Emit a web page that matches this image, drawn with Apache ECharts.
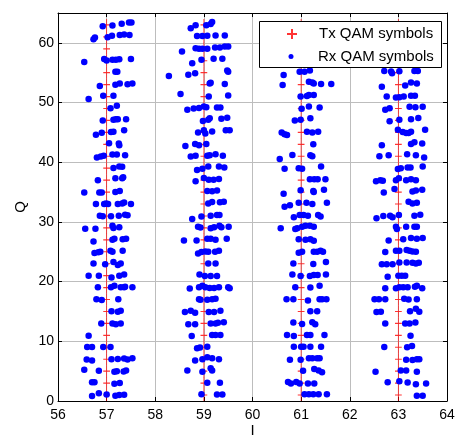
<!DOCTYPE html>
<html>
<head>
<meta charset="utf-8">
<script src="https://cdn.jsdelivr.net/npm/echarts@6/dist/echarts.min.js"></script>
<style>
html,body{margin:0;padding:0;background:#fff;}
#chart{width:456px;height:435px;}
</style>
</head>
<body>
<div id="chart"></div>
<script>
// Transmitted constellation columns (I) and rows (Q)
const txI = [57, 59, 61, 63];
const txQ = [1, 3, 5, 7, 9, 11, 13, 15, 17, 19, 21, 23, 25, 27, 29, 31, 33, 35, 37, 39, 41, 43, 45, 47, 49, 51, 53, 55, 57, 59, 61, 63];

// Received symbols: [I, Q]
const rx57 = [
  [56.92,62.8],[57.12,62.9],[57.31,63.2],[57.46,63.4],[57.51,63.4],
  [56.73,60.6],[56.76,60.9],[57.02,60.95],[57.11,61.2],[57.27,61.3],[57.36,61.4],[57.47,61.3],
  [56.54,56.8],[56.95,57.3],[57.0,57.05],[57.12,57.15],[57.19,57.15],[57.26,57.25],[57.5,57.3],
  [57.18,55.15],[57.22,55.15],
  [56.86,52.75],[57.18,53.0],[57.27,53.2],[57.43,53.05],[57.53,53.2],
  [56.63,50.6],[56.93,51.15],[57.14,51.15],
  [57.08,49.05],[57.21,49.45],
  [56.92,47.0],[57.14,47.1],[57.19,47.2],[57.23,47.2],[57.4,47.2],
  [56.78,44.6],[56.9,44.95],[57.09,45.05],[57.14,45.1],[57.36,45.35],
  [57.05,43.2],[57.25,43.15],[57.26,42.85],
  [56.8,40.8],[56.88,40.95],[56.94,41.1],[57.12,41.3],[57.21,41.3],[57.38,41.15],
  [57.14,39.05],[57.26,39.3],[57.32,39.25],
  [56.82,37.0],[57.18,37.3],[57.32,37.3],[57.34,37.5],
  [56.54,34.95],[56.85,34.95],[56.9,34.95],[57.18,35.0],[57.27,35.2],
  [56.78,33.0],[56.95,33.0],[56.99,33.1],[57.03,33.0],[57.23,33.0],[57.32,33.1],[57.36,33.25],[57.5,33.0],
  [56.86,31.05],[56.92,30.95],[57.09,30.95],[57.25,31.05],[57.38,31.2],[57.43,31.1],
  [56.56,28.85],[56.77,28.85],[57.12,29.35],[57.14,29.0],[57.26,29.1],
  [56.73,26.7],[57.12,27.0],[57.16,27.2],[57.33,27.1],[57.4,27.2],
  [56.75,24.8],[56.83,24.9],[56.87,25.0],[57.08,25.15],[57.12,25.0],[57.33,25.15],
  [56.73,23.05],[56.97,22.9],[57.14,23.3],[57.23,22.8],[57.29,23.05],
  [56.63,21.0],[56.84,21.0],[57.1,20.7],[57.26,21.0],[57.36,21.2],
  [56.82,19.05],[57.09,19.05],[57.16,19.3],[57.29,19.05],[57.36,19.05],[57.38,19.15],[57.53,19.05],
  [56.79,17.05],[56.9,16.9],[57.24,17.05],
  [57.1,15.05],[57.23,14.95],[57.29,15.1],
  [56.89,13.0],[57.12,13.0],[57.19,12.85],[57.29,13.0],
  [56.63,10.95],
  [56.6,9.05],[56.7,9.05],[56.93,9.05],[57.08,9.05],
  [56.59,6.95],[56.7,6.8],[57.1,7.0],[57.23,7.05],[57.36,7.1],[57.43,6.95],[57.53,7.15],
  [56.54,5.25],[56.84,5.05],[57.16,4.9],[57.21,5.0],[57.35,4.95],[57.4,5.1],
  [56.7,3.15],[56.75,3.15],[57.16,2.9],[57.27,3.0],
  [56.7,0.85],[56.84,1.3],[57.0,1.1],[57.18,0.9],[57.26,1.0],[57.36,1.05]
];
const rx59 = [
  [58.73,62.45],[58.83,62.95],[59.05,62.95],[59.14,63.15],[59.17,63.5],
  [58.86,61.15],[58.97,61.15],[59.07,61.2],[59.24,61.25],[59.43,61.25],
  [58.55,58.55],[58.83,59.1],[58.9,59.0],[58.97,59.0],[59.07,59.0],[59.23,59.2],[59.33,59.2],[59.43,59.4],[59.5,59.4],
  [58.76,56.6],[58.95,57.15],[59.2,57.35],[59.38,57.35],
  [58.28,54.45],[58.68,54.65],[58.82,54.9],[59.48,55.35],[59.5,55.15],
  [59.12,53.2],[59.14,53.3],[59.43,53.1],
  [58.52,51.45],[59.1,51.0],[59.5,51.2],
  [58.66,48.8],[58.79,49.0],[58.9,49.1],[59.0,49.35],[59.05,49.2],[59.27,49.15],[59.34,49.15],
  [58.98,46.9],[59.09,47.1],[59.12,47.35],[59.36,47.3],[59.48,47.45],
  [58.88,45.0],[59.0,45.35],[59.03,44.8],[59.17,45.15],[59.45,45.35],[59.53,45.35],
  [58.62,42.7],[58.82,43.05],[58.9,42.85],[59.05,43.05],
  [58.73,40.95],[58.83,41.1],[59.07,41.1],[59.12,41.15],[59.24,41.35],[59.39,41.1],
  [58.86,38.7],[58.97,38.9],[59.09,39.3],[59.31,39.3],[59.42,39.1],
  [58.83,36.8],[59.0,37.35],[59.1,37.05],[59.2,37.05],[59.31,37.2],
  [59.07,35.2],[59.17,35.15],[59.27,35.25],
  [59.09,33.1],[59.17,33.35],[59.33,33.3],[59.41,33.4],
  [58.76,30.5],[58.95,30.9],[59.14,31.05],[59.27,31.15],[59.32,31.15],
  [58.88,29.2],[58.93,29.05],[59.14,28.95],[59.21,29.1],[59.32,29.35],[59.36,29.1],[59.51,29.2],
  [58.59,26.9],[58.85,26.9],[59.07,27.2],[59.14,27.2],[59.24,27.0],[59.47,27.2],
  [58.88,24.7],[58.95,24.95],[59.03,25.05],[59.09,25.0],[59.23,25.0],[59.31,25.15],
  [59.09,23.05],[59.24,23.05],
  [58.91,21.2],[59.02,20.95],[59.14,20.95],[59.27,20.95],
  [58.71,18.85],[58.9,19.05],[58.97,19.3],[59.03,19.05],[59.12,18.95],[59.21,18.95],[59.31,19.05],[59.5,19.05],[59.53,18.9],
  [58.9,17.05],[58.93,16.95],[59.07,16.95],[59.17,17.05],[59.24,17.15],
  [58.61,14.9],[58.73,15.1],[58.82,14.8],[59.1,14.9],[59.21,14.9],[59.34,15.1],
  [58.68,12.85],[58.82,12.85],[59.14,13.0],[59.24,13.0],[59.29,13.1],[59.41,13.2],
  [58.75,10.9],[59.17,11.05],[59.24,11.05],[59.34,11.05],
  [58.86,8.85],[58.92,8.95],[59.07,9.1],
  [58.82,6.8],[58.97,7.0],[59.07,7.35],[59.17,7.15],[59.31,7.0],
  [58.66,5.1],[58.97,4.9],[59.14,5.5],[59.17,5.1],
  [59.07,3.05],[59.33,3.05],
  [58.95,1.15],[59.27,1.1],[59.38,1.1]
];
const rx61 = [
  [60.64,54.6],[60.97,55.15],[61.07,55.15],[61.18,55.35],
  [60.62,52.95],[61.16,53.5],[61.23,53.35],[61.26,53.2],[61.41,53.1],[61.62,53.1],
  [60.99,51.0],[61.12,51.1],[61.16,51.25],[61.26,51.25],
  [61.01,48.95],[61.16,49.35],[61.38,49.15],
  [60.87,47.0],[60.99,47.1],[61.19,47.35],
  [60.6,45.0],[60.66,44.7],[60.71,44.55],[61.12,45.1],[61.23,45.0],[61.35,45.1],
  [61.25,43.0],
  [60.56,40.55],[60.82,41.2],[61.19,41.15],[61.23,41.0],
  [60.66,38.9],[60.95,39.0],[61.02,38.9],[61.41,39.3],
  [61.18,37.15],[61.27,37.15],[61.34,37.15],[61.5,37.15],
  [60.64,34.7],[60.99,35.3],[61.25,35.2],[61.26,35.0],[61.47,35.4],
  [60.66,32.55],[60.77,32.8],[60.95,33.2],[61.11,33.2],[61.23,33.0],[61.53,33.2],
  [60.85,30.8],[60.97,31.15],[61.05,31.15],[61.14,31.05],[61.35,31.15],[61.4,30.9],
  [60.58,28.95],[60.88,28.8],[60.92,28.95],[61.02,29.2],[61.09,29.35],[61.18,29.35],[61.26,29.2],
  [60.95,27.1],[61.09,27.0],[61.19,27.1],[61.26,26.85],
  [60.95,24.85],[61.02,25.0],[61.26,25.0],[61.33,25.0],[61.4,25.15],[61.45,25.0],
  [60.84,23.05],[61.25,22.95],[61.51,23.3],
  [60.82,21.2],[60.99,20.95],[61.18,20.95],[61.26,21.1],[61.34,21.1],[61.51,21.2],
  [60.88,19.05],[61.19,19.0],[61.38,19.3],
  [60.7,17.05],[60.84,17.05],[61.14,16.85],[61.38,17.05],[61.43,17.05],[61.52,17.05],
  [61.19,15.05],[61.33,15.05],
  [60.84,13.15],[61.02,12.9],[61.23,13.2],[61.29,12.85],
  [60.71,11.05],[60.85,10.9],[61.12,11.05],[61.19,11.05],[61.48,11.05],
  [60.85,9.1],[61.0,9.1],[61.05,9.1],[61.19,9.1],[61.41,9.1],
  [60.77,6.9],[60.99,6.9],[61.16,7.15],[61.23,7.15],[61.33,7.15],[61.38,7.15],
  [61.04,5.05],[61.27,5.35],[61.36,5.1],[61.43,4.8],
  [60.73,3.2],[60.79,2.95],[60.9,3.2],[60.97,2.95],[61.14,2.95],[61.27,2.95],
  [61.07,1.15],[61.16,1.15],[61.25,1.15],[61.36,1.15],[61.53,1.15]
];
const rx63 = [
  [62.71,55.3],[62.85,55.2],[62.87,54.9],[63.02,55.25],[63.33,55.3],[63.4,55.3],
  [62.66,52.65],[63.14,52.85],[63.26,53.35],[63.38,53.2],
  [62.76,51.0],[62.95,50.85],[63.02,50.9],[63.11,51.0],[63.26,51.15],[63.34,51.15],
  [62.73,48.8],[62.82,49.05],[63.23,49.3],[63.35,49.2],[63.5,49.3],
  [62.82,46.85],[63.02,47.1],[63.26,47.2],[63.41,47.4],
  [62.99,45.45],[63.09,45.05],[63.16,44.9],[63.21,44.9],[63.26,45.1],[63.55,45.45],
  [62.66,42.85],[63.26,43.05],[63.33,43.35],[63.49,43.15],
  [62.61,41.0],[62.8,41.15],[63.18,41.35],[63.36,41.15],[63.53,40.8],
  [62.99,38.85],[63.05,39.0],[63.19,39.1],[63.25,39.1],[63.5,39.3],
  [62.54,36.8],[62.63,37.0],[62.68,36.9],[62.95,37.0],[63.01,37.3],[63.16,37.0],[63.26,37.15],[63.36,37.0],
  [62.7,34.95],[62.92,35.5],[63.29,35.1],[63.36,35.25],[63.49,35.4],
  [63.21,33.4],[63.29,33.1],[63.38,33.2],
  [62.55,30.6],[62.69,31.0],[62.83,31.05],[62.88,30.8],[63.01,31.15],[63.33,31.05],[63.45,31.2],
  [62.95,29.2],[62.97,28.8],[63.16,29.2],[63.33,29.2],[63.38,29.2],
  [62.8,26.9],[63.1,27.1],[63.26,27.3],[63.38,27.2],[63.5,27.3],
  [62.73,24.95],[62.95,25.15],[63.02,25.15],[63.17,25.3],[63.23,25.15],[63.29,25.05],[63.36,25.0],
  [62.66,22.9],[62.76,22.9],[62.88,22.9],[63.02,23.2],[63.17,23.2],[63.29,23.15],[63.36,23.05],[63.42,23.15],
  [62.78,20.8],[63.0,21.0],[63.07,21.0],[63.14,21.0],
  [62.73,18.9],[62.95,18.9],[63.02,19.05],[63.1,19.05],[63.19,19.05],[63.34,19.15],[63.38,19.3],[63.49,18.9],
  [62.51,17.05],[62.6,17.05],[62.73,17.05],[63.12,17.15],[63.21,17.0],[63.38,17.05],
  [62.55,14.9],[62.64,14.95],[63.24,15.05],[63.36,15.45],[63.43,14.95],
  [62.73,13.0],[63.14,13.0],[63.23,13.0],[63.35,13.15],
  [63.25,10.95],
  [62.71,9.05],[63.18,9.0],[63.28,9.2],
  [63.16,6.9],[63.29,6.85],[63.38,7.0],[63.43,7.0],
  [62.53,4.9],[63.05,5.1],[63.16,5.1],[63.38,4.9],
  [62.78,3.15],[63.02,3.3],[63.19,3.1],[63.36,2.8],[63.57,2.95],
  [63.38,0.9],[63.5,0.9]
];

const xTicks = {min: 56, max: 64, interval: 1};
const yTicks = {min: 0, max: 65, interval: 10};
const seriesNames = ['Tx QAM symbols', 'Rx QAM symbols'];

const txData = [];
txI.forEach(i => txQ.forEach(q => txData.push([i, q])));
const rxData = rx57.concat(rx59, rx61, rx63);

const FONT = '"Liberation Sans", Arial, sans-serif';
const plusPath = 'path://M4.5,0L4.5,12M0,6L9,6';
const plusIcon = 'path://M5,0L5,10M0,5L10,5';

const chart = echarts.init(document.getElementById('chart'), null, {renderer: 'canvas'});

function boxAxis(pos, isX, showLabels, cfg) {
  return {
    type: 'value',
    position: pos,
    min: cfg.min, max: cfg.max, interval: cfg.interval,
    axisLine: {show: true, onZero: false, lineStyle: {color: '#000', width: 1}},
    axisTick: {show: true, inside: true, length: 4, lineStyle: {color: '#000', width: 1}},
    axisLabel: {show: showLabels, color: '#000', fontSize: 14, fontFamily: FONT,
      margin: isX ? 7 : 4, showMaxLabel: isX ? true : false},
    splitLine: {show: showLabels, lineStyle: {color: '#bdbdbd', width: 1, type: 'solid'}}
  };
}

const xMain = boxAxis('bottom', true, true, xTicks);
xMain.name = 'I';
xMain.nameLocation = 'middle';
xMain.nameGap = 22;
xMain.nameMoveOverlap = false;
xMain.nameTextStyle = {color: '#000', fontSize: 15, fontFamily: FONT};
const xTop = boxAxis('top', true, false, xTicks);

const yMain = boxAxis('left', false, true, yTicks);
yMain.name = 'Q';
yMain.nameLocation = 'middle';
yMain.nameGap = 30;
yMain.nameRotate = 90;
yMain.nameMoveOverlap = false;
yMain.nameTextStyle = {color: '#000', fontSize: 15, fontFamily: FONT};
const yRight = boxAxis('right', false, false, yTicks);

const legendCommon = {
  orient: 'vertical',
  padding: 0,
  itemWidth: 44,
  itemGap: 0,
  z: 6,
  selectedMode: false,
  textStyle: {color: '#000', fontSize: 15, fontFamily: FONT, lineHeight: 16}
};

chart.setOption({
  animation: false,
  backgroundColor: '#fff',
  grid: {left: 58, right: 9, top: 13, bottom: 34, containLabel: false, outerBoundsMode: 'none'},
  xAxis: [xMain, xTop],
  yAxis: [yMain, yRight],
  legend: [
    Object.assign({}, legendCommon, {left: 286, top: 26, itemHeight: 10,
      data: [{name: seriesNames[0], icon: plusIcon}]}),
    Object.assign({}, legendCommon, {left: 288.5, top: 48.5, itemHeight: 5,
      data: [{name: seriesNames[1], icon: 'circle'}]})
  ],
  graphic: [{
    type: 'rect',
    z: 5,
    shape: {x: 259.5, y: 21.5, width: 182, height: 46},
    style: {fill: '#fff', stroke: '#000', lineWidth: 1}
  }],
  series: [
    {
      name: seriesNames[0],
      type: 'scatter',
      xAxisIndex: 0, yAxisIndex: 0,
      data: txData,
      symbol: plusPath,
      symbolSize: [9, 12],
      symbolKeepAspect: true,
      itemStyle: {color: 'rgba(0,0,0,0)', borderColor: '#ff0000', borderWidth: 1},
      z: 2
    },
    {
      name: seriesNames[1],
      type: 'scatter',
      xAxisIndex: 0, yAxisIndex: 0,
      data: rxData,
      symbol: 'circle',
      symbolSize: 6.5,
      itemStyle: {color: '#0000ff', opacity: 1},
      z: 3
    }
  ]
});
</script>
</body>
</html>
